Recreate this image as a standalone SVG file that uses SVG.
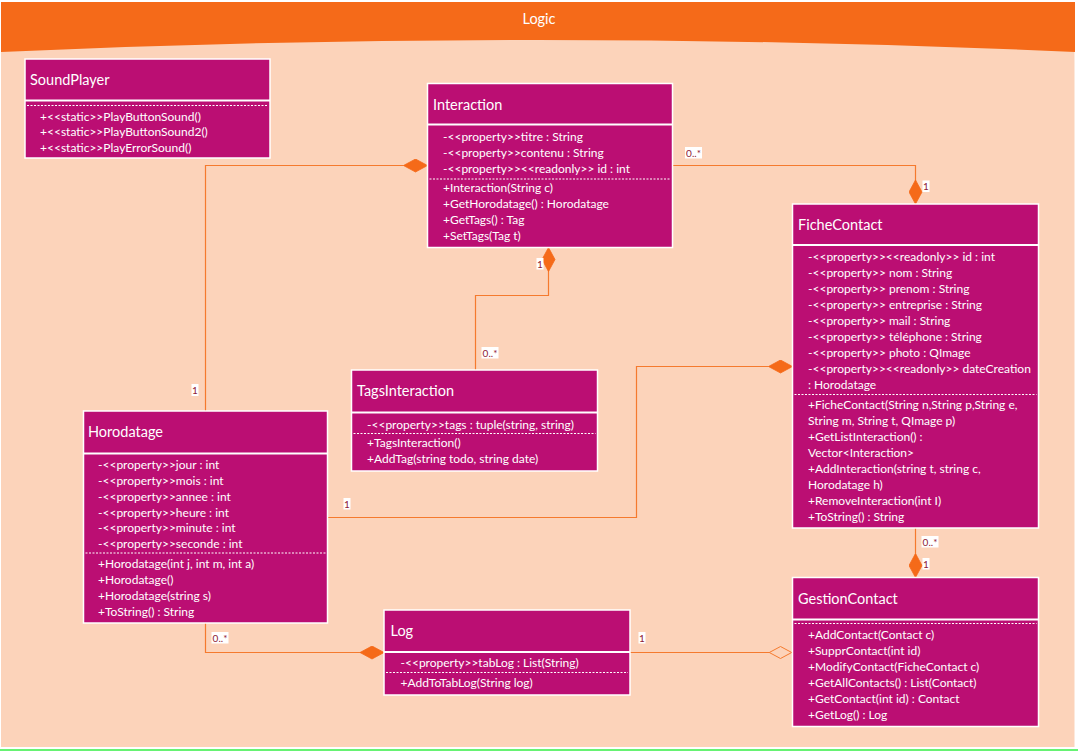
<svg xmlns="http://www.w3.org/2000/svg" width="1078" height="752" viewBox="0 0 1078 752">
  <style>
    .box { fill: #BB0E73; stroke: #FFFFFF; stroke-width: 1.5; }
    .sep { stroke: #FFFFFF; stroke-width: 2; }
    .dash { stroke: #FFFFFF; stroke-width: 1; stroke-dasharray: 2 1.5; }
    .title { font-family: Lato, "Liberation Sans", sans-serif; font-size: 14.5px; fill: #FFFFFF; }
    .member { font-family: Lato, "Liberation Sans", sans-serif; font-size: 12px; fill: #FFFFFF; }
    .link { fill: none; stroke: #F57A2E; stroke-width: 1.2; }
    .mult-bg { fill: #FFFFFF; }
    .mult { font-family: Lato, "Liberation Sans", sans-serif; font-size: 10px; fill: #8E2035; }
  </style>
  <defs>
    <marker id="composition" viewBox="0 0 24 14" refX="24" refY="7" markerWidth="24" markerHeight="14" markerUnits="userSpaceOnUse" orient="auto">
      <path d="M0,7 L12,0.5 L24,7 L12,13.5 Z" fill="#F56A19" stroke="#F56A19" stroke-width="0.8"/>
    </marker>
    <marker id="aggregation" viewBox="0 0 24 14" refX="24" refY="7" markerWidth="24" markerHeight="14" markerUnits="userSpaceOnUse" orient="auto">
      <path d="M0.8,7 L12,1 L23.2,7 L12,13 Z" fill="#FCD3BA" stroke="#F57A2E" stroke-width="1"/>
    </marker>
  </defs>

  <!-- package frame -->
  <rect x="0" y="0" width="1078" height="752" fill="#FFFFFF"/>
  <rect x="1" y="30" width="1073.5" height="717" fill="#FCD3BA"/>
  <path d="M1,2 H1075 V52 Q538,28 1,52 Z" fill="#F56A19"/>
  <text x="539" y="23.5" text-anchor="middle" font-family="Lato, 'Liberation Sans', sans-serif" font-size="14.5" fill="#FFFFFF">Logic</text>
  <line x1="0" y1="750" x2="1078" y2="750" stroke="#33EE44" stroke-width="1.5"/>

  <!-- connectors -->
  <g id="connectors">
    <polyline class="link" points="205.5,411 205.5,165.5 427.5,165.5" marker-end="url(#composition)"/>
    <polyline class="link" points="672.5,165.5 915.5,165.5 915.5,204" marker-end="url(#composition)"/>
    <polyline class="link" points="475.5,370 475.5,295.5 548.5,295.5 548.5,247.5" marker-end="url(#composition)"/>
    <polyline class="link" points="327.5,517.5 636.5,517.5 636.5,366.5 792.5,366.5" marker-end="url(#composition)"/>
    <polyline class="link" points="915.5,528 915.5,577.5" marker-end="url(#composition)"/>
    <polyline class="link" points="205.5,623 205.5,652.5 384,652.5" marker-end="url(#composition)"/>
    <polyline class="link" points="630,652.5 792.5,652.5" marker-end="url(#aggregation)"/>

    <!-- multiplicities -->
    <rect class="mult-bg" x="191.5" y="384" width="7" height="12"/>
    <text class="mult" x="195" y="393.5" text-anchor="middle">1</text>
    <rect class="mult-bg" x="685" y="147" width="17" height="11.5"/>
    <text class="mult" x="693.5" y="156.5" text-anchor="middle">0..*</text>
    <rect class="mult-bg" x="922.5" y="180.5" width="7" height="11.5"/>
    <text class="mult" x="926" y="190" text-anchor="middle">1</text>
    <rect class="mult-bg" x="536.5" y="258" width="7" height="11.5"/>
    <text class="mult" x="540" y="267.5" text-anchor="middle">1</text>
    <rect class="mult-bg" x="481.5" y="347" width="17" height="11.5"/>
    <text class="mult" x="490" y="356.5" text-anchor="middle">0..*</text>
    <rect class="mult-bg" x="343.5" y="498" width="7" height="11.5"/>
    <text class="mult" x="347" y="507.5" text-anchor="middle">1</text>
    <rect class="mult-bg" x="921.5" y="536" width="17" height="11.5"/>
    <text class="mult" x="930" y="545.5" text-anchor="middle">0..*</text>
    <rect class="mult-bg" x="922.5" y="558" width="7" height="11.5"/>
    <text class="mult" x="926" y="567.5" text-anchor="middle">1</text>
    <rect class="mult-bg" x="211.5" y="632" width="17" height="11.5"/>
    <text class="mult" x="220" y="641.5" text-anchor="middle">0..*</text>
    <rect class="mult-bg" x="638.5" y="632" width="7" height="11.5"/>
    <text class="mult" x="642" y="641.5" text-anchor="middle">1</text>
  </g>

  <!-- SoundPlayer -->
  <g id="SoundPlayer">
    <rect class="box" x="25" y="59" width="245" height="99"/>
    <line class="sep" x1="25" y1="100.5" x2="270" y2="100.5"/>
    <text class="title" x="30" y="85">SoundPlayer</text>
    <line class="dash" x1="27" y1="105.5" x2="268" y2="105.5"/>
    <text class="member" x="40" y="120.5">+&lt;&lt;static&gt;&gt;PlayButtonSound()</text>
    <text class="member" x="40" y="136">+&lt;&lt;static&gt;&gt;PlayButtonSound2()</text>
    <text class="member" x="40" y="151.5">+&lt;&lt;static&gt;&gt;PlayErrorSound()</text>
  </g>

  <!-- Interaction -->
  <g id="Interaction">
    <rect class="box" x="427.5" y="83.5" width="245" height="164"/>
    <line class="sep" x1="427.5" y1="124.5" x2="672.5" y2="124.5"/>
    <text class="title" x="433" y="109.5">Interaction</text>
    <text class="member" x="443" y="141">-&lt;&lt;property&gt;&gt;titre : String</text>
    <text class="member" x="443" y="157">-&lt;&lt;property&gt;&gt;contenu : String</text>
    <text class="member" x="443" y="173">-&lt;&lt;property&gt;&gt;&lt;&lt;readonly&gt;&gt; id : int</text>
    <line class="dash" x1="429.5" y1="179" x2="670.5" y2="179"/>
    <text class="member" x="443" y="192">+Interaction(String c)</text>
    <text class="member" x="443" y="208">+GetHorodatage() : Horodatage</text>
    <text class="member" x="443" y="224">+GetTags() : Tag</text>
    <text class="member" x="443" y="239.5">+SetTags(Tag t)</text>
  </g>

  <!-- FicheContact -->
  <g id="FicheContact">
    <rect class="box" x="792.5" y="204" width="246" height="324"/>
    <line class="sep" x1="792.5" y1="245" x2="1038.5" y2="245"/>
    <text class="title" x="798" y="229.5">FicheContact</text>
    <text class="member" x="808" y="261">-&lt;&lt;property&gt;&gt;&lt;&lt;readonly&gt;&gt; id : int</text>
    <text class="member" x="808" y="277">-&lt;&lt;property&gt;&gt; nom : String</text>
    <text class="member" x="808" y="293">-&lt;&lt;property&gt;&gt; prenom : String</text>
    <text class="member" x="808" y="309">-&lt;&lt;property&gt;&gt; entreprise : String</text>
    <text class="member" x="808" y="325">-&lt;&lt;property&gt;&gt; mail : String</text>
    <text class="member" x="808" y="341">-&lt;&lt;property&gt;&gt; téléphone : String</text>
    <text class="member" x="808" y="357">-&lt;&lt;property&gt;&gt; photo : QImage</text>
    <text class="member" x="808" y="373">-&lt;&lt;property&gt;&gt;&lt;&lt;readonly&gt;&gt; dateCreation</text>
    <text class="member" x="808" y="389">: Horodatage</text>
    <line class="dash" x1="794.5" y1="394.5" x2="1036.5" y2="394.5"/>
    <text class="member" x="808" y="408.5">+FicheContact(String n,String p,String e,</text>
    <text class="member" x="808" y="424.5">String m, String t, QImage p)</text>
    <text class="member" x="808" y="440.5">+GetListInteraction() :</text>
    <text class="member" x="808" y="456.5">Vector&lt;Interaction&gt;</text>
    <text class="member" x="808" y="472.5">+AddInteraction(string t, string c,</text>
    <text class="member" x="808" y="488.5">Horodatage h)</text>
    <text class="member" x="808" y="504.5">+RemoveInteraction(int  I)</text>
    <text class="member" x="808" y="520.5">+ToString() : String</text>
  </g>

  <!-- Horodatage -->
  <g id="Horodatage">
    <rect class="box" x="83.5" y="411" width="244" height="212"/>
    <line class="sep" x1="83.5" y1="453.5" x2="327.5" y2="453.5"/>
    <text class="title" x="88" y="437">Horodatage</text>
    <text class="member" x="98" y="469">-&lt;&lt;property&gt;&gt;jour : int</text>
    <text class="member" x="98" y="485">-&lt;&lt;property&gt;&gt;mois : int</text>
    <text class="member" x="98" y="501">-&lt;&lt;property&gt;&gt;annee : int</text>
    <text class="member" x="98" y="517">-&lt;&lt;property&gt;&gt;heure : int</text>
    <text class="member" x="98" y="532">-&lt;&lt;property&gt;&gt;minute : int</text>
    <text class="member" x="98" y="547.5">-&lt;&lt;property&gt;&gt;seconde : int</text>
    <line class="dash" x1="85.5" y1="553" x2="325.5" y2="553"/>
    <text class="member" x="98" y="568">+Horodatage(int j, int m, int a)</text>
    <text class="member" x="98" y="583.5">+Horodatage()</text>
    <text class="member" x="98" y="600">+Horodatage(string s)</text>
    <text class="member" x="98" y="615.5">+ToString() : String</text>
  </g>

  <!-- TagsInteraction -->
  <g id="TagsInteraction">
    <rect class="box" x="351.5" y="370" width="246" height="101"/>
    <line class="sep" x1="351.5" y1="412.5" x2="597.5" y2="412.5"/>
    <text class="title" x="357" y="396">TagsInteraction</text>
    <text class="member" x="367" y="429">-&lt;&lt;property&gt;&gt;tags : tuple(string, string)</text>
    <line class="dash" x1="353.5" y1="433.5" x2="595.5" y2="433.5"/>
    <text class="member" x="367" y="447">+TagsInteraction()</text>
    <text class="member" x="367" y="463">+AddTag(string todo, string date)</text>
  </g>

  <!-- Log -->
  <g id="Log">
    <rect class="box" x="384" y="610" width="246" height="85"/>
    <line class="sep" x1="384" y1="652" x2="630" y2="652"/>
    <text class="title" x="390.5" y="636">Log</text>
    <text class="member" x="400.5" y="666.5">-&lt;&lt;property&gt;&gt;tabLog : List(String)</text>
    <line class="dash" x1="386" y1="672.5" x2="628" y2="672.5"/>
    <text class="member" x="400.5" y="686.5">+AddToTabLog(String log)</text>
  </g>

  <!-- GestionContact -->
  <g id="GestionContact">
    <rect class="box" x="792.5" y="577.5" width="246" height="149"/>
    <line class="sep" x1="792.5" y1="619.5" x2="1038.5" y2="619.5"/>
    <text class="title" x="798" y="603.5">GestionContact</text>
    <line class="dash" x1="794.5" y1="623.5" x2="1036.5" y2="623.5"/>
    <text class="member" x="808" y="639">+AddContact(Contact c)</text>
    <text class="member" x="808" y="654.5">+SupprContact(int id)</text>
    <text class="member" x="808" y="671">+ModifyContact(FicheContact c)</text>
    <text class="member" x="808" y="687">+GetAllContacts() : List(Contact)</text>
    <text class="member" x="808" y="703">+GetContact(int id) : Contact</text>
    <text class="member" x="808" y="719">+GetLog() : Log</text>
  </g>
</svg>
